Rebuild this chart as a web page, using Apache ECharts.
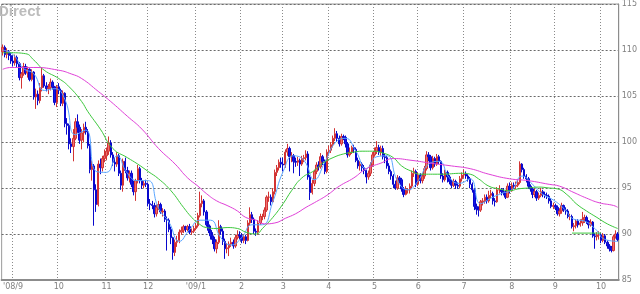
<!DOCTYPE html>
<html>
<head>
<meta charset="utf-8">
<script src="https://cdn.jsdelivr.net/npm/echarts@6/dist/echarts.min.js"></script>
<style>
html,body{margin:0;padding:0;background:#fff;}
#chart{width:640px;height:294px;}
</style>
</head>
<body>
<div id="chart"></div>
<script>
// daily candles [open, close, low, high], late Aug 2008 .. mid Oct 2009
const ohlc = [
[109.8,110.3,109.4,110.6],[110.3,109.5,109.2,110.5],[109.5,109.8,109.1,110.2],[109.8,109.4,108.9,110.0],[109.4,108.8,108.5,109.7],
// Sep 2008
[108.8,108.6,108.2,109.4],[108.6,109.2,108.3,109.5],[109.2,108.5,108.1,109.4],[108.5,107.0,106.7,108.7],[107.0,107.4,105.8,107.6],
[107.4,108.2,107.2,108.6],[108.2,107.5,107.3,108.5],[107.5,107.9,107.0,108.2],[107.9,106.8,106.6,108.0],[106.8,107.6,106.6,107.9],
[107.6,104.9,104.6,107.7],[104.9,105.2,103.6,105.8],[105.2,104.5,104.0,105.6],[104.5,105.9,104.2,106.4],[105.9,107.2,105.5,108.1],
[107.2,106.1,105.9,107.4],[106.1,105.8,105.5,106.5],[105.8,105.9,105.2,106.3],[105.9,106.5,105.6,106.9],[106.5,106.0,105.7,106.7],
[106.0,104.3,104.0,106.1],[104.3,106.0,103.8,106.2],
// Oct 2008
[106.0,105.6,105.2,106.4],[105.6,104.2,103.9,105.8],[104.2,105.3,103.9,105.6],[105.3,102.0,101.6,105.4],[102.0,101.8,100.8,102.6],
[101.8,99.8,99.2,102.0],[99.8,99.5,98.8,100.4],[99.5,100.4,97.9,101.4],[100.4,102.2,100.2,102.6],[102.2,101.6,101.0,103.0],
[101.6,100.2,99.8,101.9],[100.2,101.0,99.2,101.4],[101.0,101.6,100.0,102.0],[101.6,101.1,100.8,102.2],[101.1,99.6,99.3,101.4],
[99.6,97.0,96.6,99.8],[97.0,97.4,95.8,98.0],[97.4,94.8,90.9,97.6],[94.8,93.2,92.4,95.4],[93.2,97.6,93.0,98.0],
[97.6,97.2,96.5,98.2],[97.2,98.2,96.8,98.5],[98.2,98.5,97.8,99.2],
// Nov 2008
[98.5,99.0,98.0,99.4],[99.0,99.9,98.6,100.6],[99.9,98.6,98.3,100.2],[98.6,97.8,97.4,98.9],[97.8,97.6,96.8,98.3],
[97.6,98.5,97.3,98.9],[98.5,96.6,96.3,98.7],[96.6,95.3,94.8,96.9],[95.3,97.9,94.6,98.2],[97.9,96.9,96.6,98.3],
[96.9,96.1,95.8,97.3],[96.1,96.6,95.6,96.9],[96.6,95.4,95.1,96.9],[95.4,94.6,94.2,95.8],[94.6,95.8,93.6,96.0],
[95.8,97.1,95.5,97.5],[97.1,95.8,95.5,97.3],[95.8,95.3,94.9,96.1],[95.3,95.5,95.0,95.8],[95.5,95.4,95.1,95.9],
// Dec 2008
[95.4,93.3,93.0,95.6],[93.3,93.2,92.6,93.8],[93.2,93.1,92.7,93.6],[93.1,92.2,91.8,93.4],[92.2,92.9,91.9,93.2],
[92.9,93.2,92.6,93.6],[93.2,92.4,92.2,93.4],[92.4,92.5,91.9,92.8],[92.5,91.6,91.3,92.7],[91.6,91.5,88.2,91.9],
[91.5,90.5,90.2,91.7],[90.5,89.6,88.9,90.8],[89.6,88.0,87.2,89.7],[88.0,89.1,87.6,89.4],[89.1,89.3,88.6,89.8],
[89.3,90.2,89.0,90.5],[90.2,90.4,89.9,90.8],[90.4,90.8,90.1,91.0],[90.8,90.5,90.2,90.9],[90.5,90.8,90.3,91.0],
[90.8,90.2,90.0,91.1],[90.2,90.3,89.9,90.6],[90.3,90.6,90.1,90.9],
// Jan 2009
[90.6,90.9,90.4,91.2],[90.9,92.0,90.7,92.3],[92.0,93.3,91.8,94.6],[93.3,93.6,92.9,94.2],[93.6,92.4,92.0,93.8],
[92.4,91.0,90.8,92.6],[91.0,90.4,90.1,91.4],[90.4,89.8,89.4,90.9],[89.8,89.4,88.9,90.2],[89.4,88.4,88.1,89.7],
[88.4,89.1,87.9,89.4],[89.1,90.8,88.9,91.5],[90.8,90.3,89.9,91.0],[90.3,89.2,88.8,90.6],[89.2,88.4,87.3,89.5],
[88.4,88.5,87.9,89.0],[88.5,88.9,87.6,89.2],[88.9,89.1,88.6,89.6],[89.1,88.7,88.4,89.4],[88.7,89.6,88.5,89.9],
[89.6,89.9,89.4,90.4],[89.9,89.8,89.4,90.3],
// Feb 2009
[89.8,89.3,89.0,90.1],[89.3,89.7,89.0,90.0],[89.7,89.3,88.9,89.9],[89.3,91.2,89.2,91.5],[91.2,92.1,90.9,92.9],
[92.1,91.6,91.2,92.4],[91.6,90.3,90.0,91.8],[90.3,90.2,89.8,90.6],[90.2,91.2,89.9,91.5],[91.2,91.9,91.0,92.2],
[91.9,91.9,91.5,92.2],[91.9,92.6,91.6,92.9],[92.6,94.0,92.4,94.2],[94.0,94.0,93.5,94.6],[94.0,93.5,93.1,94.3],
[93.5,94.6,93.4,95.0],[94.6,96.7,94.3,97.0],[96.7,97.2,96.3,97.5],[97.2,97.8,96.9,98.1],[97.8,97.6,97.2,98.3],
// Mar 2009
[97.6,97.5,96.8,98.3],[97.5,98.9,97.2,99.2],[98.9,99.3,98.5,99.8],[99.3,98.4,96.8,99.5],[98.4,98.5,97.8,98.9],
[98.5,97.9,96.6,98.7],[97.9,97.8,97.3,98.3],[97.8,98.0,97.4,98.4],[98.0,97.6,96.3,98.2],[97.6,98.2,97.4,98.5],
[98.2,98.3,97.8,98.6],[98.3,98.7,98.0,99.1],[98.7,96.2,95.9,99.0],[96.2,94.5,93.7,96.4],[94.5,95.5,94.3,95.9],
[95.5,96.8,95.2,97.0],[96.8,97.5,96.5,97.8],[97.5,97.3,96.9,97.9],[97.3,98.4,97.1,98.8],[98.4,97.9,97.5,98.6],
[97.9,96.8,96.5,98.1],[96.8,98.9,96.6,99.2],
// Apr 2009
[98.9,99.1,98.5,99.6],[99.1,99.7,98.8,100.0],[99.7,100.4,99.4,100.7],[100.4,100.9,100.1,101.5],[100.9,100.4,100.0,101.2],
[100.4,99.8,99.5,100.7],[99.8,100.6,99.6,100.9],[100.6,100.5,100.2,100.8],[100.5,99.8,99.4,100.7],[99.8,98.6,98.3,100.0],
[98.6,98.9,98.4,99.4],[98.9,99.4,98.7,99.6],[99.4,99.2,98.8,99.7],[99.2,98.0,97.8,99.4],[98.0,97.4,97.1,98.3],
[97.4,97.6,96.9,97.9],[97.6,97.2,96.8,97.8],[97.2,96.9,96.5,97.5],[96.9,96.2,95.5,97.0],[96.2,96.6,95.9,96.9],
[96.6,97.5,96.3,97.8],[97.5,98.6,97.3,98.9],
// May 2009
[98.6,99.0,98.4,99.4],[99.0,99.4,98.7,100.1],[99.4,98.9,98.6,99.7],[98.9,99.3,98.5,99.6],[99.3,98.4,98.1,99.6],
[98.4,98.3,97.7,98.8],[98.3,97.4,97.1,98.5],[97.4,96.8,96.5,97.7],[96.8,96.3,95.9,97.0],[96.3,95.4,95.0,96.5],
[95.4,95.0,94.8,95.8],[95.0,96.1,94.8,96.4],[96.1,95.9,95.5,96.3],[95.9,94.9,94.6,96.1],[94.9,94.3,94.0,95.1],
[94.3,94.8,94.2,95.2],[94.8,94.8,94.4,95.0],[94.8,95.2,94.4,95.5],[95.2,96.6,95.0,96.9],[96.6,96.8,96.2,97.2],
[96.8,95.4,95.1,97.0],
// Jun 2009
[95.4,96.4,95.2,96.7],[96.4,95.8,95.5,96.6],[95.8,96.3,95.5,96.6],[96.3,97.1,96.0,97.4],[97.1,98.6,96.9,99.0],
[98.6,98.4,97.9,98.9],[98.4,97.2,96.9,98.6],[97.2,98.2,97.0,98.5],[98.2,97.6,97.3,98.4],[97.6,98.4,97.4,98.7],
[98.4,97.9,97.6,98.6],[97.9,96.3,96.0,98.0],[96.3,95.9,95.6,96.6],[95.9,96.7,95.7,97.0],[96.7,96.2,95.6,96.9],
[96.2,95.7,95.4,96.4],[95.7,95.3,95.0,95.9],[95.3,95.7,95.1,96.0],[95.7,95.3,94.9,95.9],[95.3,95.2,94.9,95.6],
[95.2,96.0,95.0,96.3],[96.0,96.4,95.7,96.7],
// Jul 2009
[96.4,96.5,96.1,97.0],[96.5,96.3,96.0,96.8],[96.3,96.0,95.7,96.5],[96.0,95.4,95.0,96.2],[95.4,94.8,94.5,95.6],
[94.8,93.0,92.6,95.0],[93.0,92.7,92.1,93.3],[92.7,92.6,91.9,93.0],[92.6,93.5,92.4,93.7],[93.5,93.6,93.1,93.9],
[93.6,94.0,93.3,94.3],[94.0,93.6,93.3,94.3],[93.6,94.2,93.4,94.7],[94.2,94.4,93.9,94.8],[94.4,93.6,93.2,94.6],
[93.6,93.5,93.0,93.9],[93.5,94.8,93.4,95.1],[94.8,94.8,94.4,95.3],[94.8,94.6,94.2,95.0],[94.6,94.5,94.2,95.0],
[94.5,94.0,93.8,94.8],[94.0,95.2,93.9,95.5],[95.2,94.7,94.4,95.6],
// Aug 2009
[94.7,95.3,94.6,95.6],[95.3,95.2,94.9,95.6],[95.2,95.3,94.9,95.7],[95.3,95.6,95.1,95.9],[95.6,97.6,95.4,97.9],
[97.6,97.0,96.7,97.7],[97.0,96.3,96.0,97.2],[96.3,96.0,95.6,96.5],[96.0,95.2,94.9,96.2],[95.2,94.9,94.6,95.4],
[94.9,94.3,93.9,95.0],[94.3,94.6,94.0,94.9],[94.6,93.9,93.6,94.8],[93.9,94.2,93.7,94.5],[94.2,94.6,94.0,95.0],
[94.6,94.3,94.0,94.8],[94.3,94.2,93.9,94.6],[94.2,94.1,93.8,94.5],[94.1,93.6,93.3,94.3],[93.6,93.0,92.8,93.9],
[93.0,93.1,92.7,93.4],
// Sep 2009
[93.1,92.9,92.6,93.3],[92.9,92.2,92.0,93.1],[92.2,92.5,91.9,92.8],[92.5,93.1,92.2,93.4],[93.1,92.6,92.4,93.2],
[92.6,92.5,92.1,92.9],[92.5,91.9,91.7,92.7],[91.9,91.9,91.5,92.2],[91.9,90.8,90.6,92.1],[90.8,90.9,90.3,91.2],
[90.9,91.4,90.6,91.6],[91.4,91.0,90.7,91.6],[91.0,91.2,90.8,91.6],[91.2,91.6,90.9,92.4],[91.6,91.8,91.2,92.1],
[91.8,91.4,91.1,92.0],[91.4,91.0,90.6,91.5],[91.0,91.3,90.8,91.6],[91.3,89.8,89.6,91.4],[89.8,89.7,88.4,90.1],
[89.7,89.9,89.3,90.2],[89.9,89.9,89.4,90.3],
// Oct 2009
[89.9,89.3,89.0,90.1],[89.3,89.8,89.1,90.1],[89.8,89.1,88.9,90.0],[89.1,88.7,88.4,89.3],[88.7,88.4,88.1,88.9],
[88.4,88.2,88.0,88.7],[88.2,89.7,88.1,89.9],[89.7,90.0,89.5,90.4],[90.0,89.4,89.2,90.2]
];

// month label positions (day index of first trading day) and their labels
const monthStarts = [5,27,50,70,93,115,135,157,179,200,222,245,266,288];
const monthLabels = ["'08/9","10","11","12","'09/1","2","3","4","5","6","7","8","9","10"];

// y-axis ticks
const yMin = 85, yMax = 115, yStep = 5;

// moving-average lines: [day index, value]
const maShort = [[0,110.0],[5,109.5],[10,108.0],[15,107.4],[20,105.6],[25,105.8],[30,104.6],[35,100.8],[40,101.3],[45,96.8],[50,96.7],[55,98.5],[60,96.6],[65,95.8],[70,95.8],[75,92.8],[80,91.3],[85,89.2],[90,90.5],[95,91.5],[100,91.5],[105,89.6],[110,88.8],[115,89.6],[120,91.0],[125,91.0],[130,93.5],[135,96.8],[140,98.5],[145,98.0],[150,95.9],[155,97.8],[160,99.9],[165,100.4],[170,99.0],[175,97.1],[180,98.4],[185,98.5],[190,95.8],[195,94.8],[200,95.8],[205,97.6],[210,97.9],[215,96.1],[220,95.5],[225,96.0],[230,93.3],[235,93.9],[240,94.4],[245,94.8],[250,96.3],[255,95.4],[260,94.3],[265,93.7],[270,92.8],[275,91.6],[280,91.4],[285,90.6],[290,89.4],[296,89.2]];
const maMid = [[0,109.7],[4,109.7],[11,109.6],[15,108.9],[20,107.8],[27,106.9],[32,106.0],[38,104.4],[41,103.3],[47,101.4],[53,99.3],[60,98.3],[65,97.6],[70,96.8],[75,96.0],[81,94.7],[87,92.9],[91,91.8],[94,91.2],[98,90.7],[103,90.6],[108,90.7],[113,90.6],[117,90.2],[122,90.0],[125,90.6],[130,91.8],[135,93.3],[139,94.7],[144,96.1],[150,96.9],[154,97.7],[159,98.3],[164,98.7],[169,98.9],[173,99.0],[178,99.0],[183,98.8],[188,98.3],[192,97.4],[197,96.8],[201,96.5],[211,96.5],[221,96.6],[225,96.5],[229,96.0],[234,95.2],[239,94.9],[244,94.7],[248,94.9],[253,95.0],[258,95.1],[263,95.0],[267,94.9],[272,94.2],[276,93.3],[281,92.5],[286,91.8],[291,91.1],[296,90.6]];
const maLong = [[0,107.9],[4,108.1],[15,108.1],[27,107.8],[33,107.4],[38,106.9],[46,105.5],[52,104.4],[60,102.8],[67,101.4],[75,99.3],[83,97.6],[89,96.1],[94,95.2],[98,94.4],[103,93.6],[108,93.1],[113,92.5],[117,91.8],[122,91.5],[126,91.1],[131,91.2],[136,91.7],[141,92.2],[146,92.9],[150,93.4],[156,94.2],[162,95.2],[169,96.1],[175,97.1],[182,97.7],[188,98.2],[197,98.0],[206,97.7],[216,97.4],[225,97.1],[234,96.5],[244,96.0],[253,95.8],[263,95.4],[268,95.2],[275,94.5],[281,93.9],[287,93.4],[294,93.1],[296,92.9]];
const flatLine = [[274,90.1],[288,90.1]];

const categories = ohlc.map((d, i) => String(i));
const isMonthStart = i => monthStarts.indexOf(i) >= 0;

const chart = echarts.init(document.getElementById('chart'), null, {renderer: 'canvas'});
const labelFont = {fontSize: 8, color: '#808080', fontFamily: 'DejaVu Sans'};

chart.setOption({
  animation: false,
  backgroundColor: '#ffffff',
  grid: {left: -1, right: 21, top: 2, bottom: 14, show: true, borderColor: '#9a9a9a', borderWidth: 1, backgroundColor: 'transparent'},
  graphic: [{
    type: 'text', left: -2, top: 4, z: 100,
    style: {text: 'Direct', font: 'bold 15px "Liberation Sans", Arial, sans-serif', fill: '#bcbcbc'}
  }],
  xAxis: {
    type: 'category', data: categories, boundaryGap: true,
    axisLine: {show: true, lineStyle: {color: '#8c8c8c', width: 2}},
    axisTick: {show: false},
    axisLabel: Object.assign({
      interval: (i) => isMonthStart(i),
      formatter: (v, i) => monthLabels[monthStarts.indexOf(Number(v))] || '',
      margin: 3
    }, labelFont),
    splitLine: {show: true, interval: (i) => isMonthStart(i), lineStyle: {color: '#8a8a8a', type: [1, 2], width: 1}}
  },
  yAxis: {
    type: 'value', position: 'right', min: yMin, max: yMax, interval: yStep,
    axisLine: {show: true, lineStyle: {color: '#8c8c8c', width: 1}},
    axisTick: {show: false},
    axisLabel: Object.assign({margin: 3}, labelFont),
    splitLine: {show: true, lineStyle: {color: '#6a6a6a', type: [2, 2], width: 1}}
  },
  series: [
    {
      type: 'candlestick', data: ohlc, barWidth: 1.9,
      itemStyle: {color: '#ec7070', color0: '#1414e8', borderColor: '#d23434', borderColor0: '#0808cc', borderWidth: 1}
    },
    {type: 'line', data: maShort, showSymbol: false, smooth: true, lineStyle: {color: '#5aa6ff', width: 1}},
    {type: 'line', data: maMid, showSymbol: false, smooth: true, lineStyle: {color: '#3cc83c', width: 1}},
    {type: 'line', data: maLong, showSymbol: false, smooth: true, lineStyle: {color: '#e040d8', width: 1}},
    {type: 'line', data: flatLine, showSymbol: false, lineStyle: {color: '#3cc83c', width: 1}}
  ]
});
</script>
</body>
</html>
